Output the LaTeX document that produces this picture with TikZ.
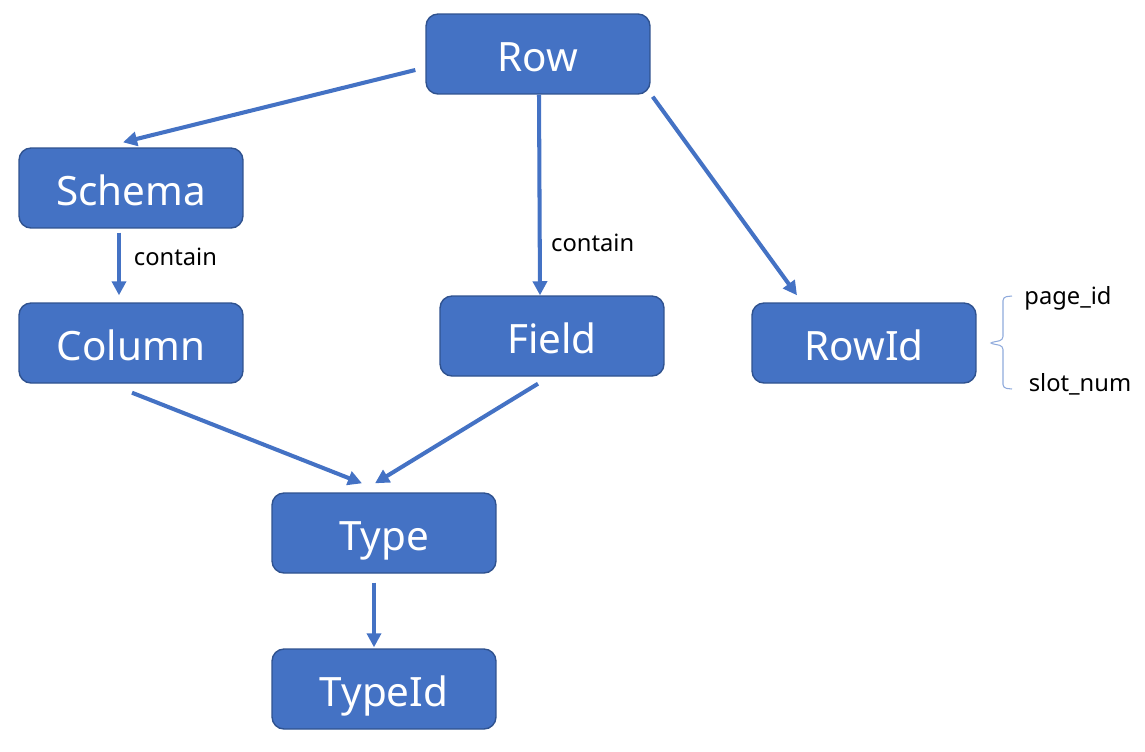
\documentclass[tikz,border=0pt]{standalone}
\usepackage{fontspec}
\setmainfont{Noto Sans}
\usetikzlibrary{arrows.meta,calc}
\definecolor{boxfill}{HTML}{4472C4}
\definecolor{boxline}{HTML}{2F528F}
\definecolor{bracecol}{HTML}{8FAADC}
\tikzset{
  box/.style={draw=boxline, line width=0.8pt, fill=boxfill, rounded corners=0.24cm,
    minimum width=4.48cm, minimum height=1.6cm, text=white, font=\fontsize{23}{28}\selectfont,
    text height=20pt, text depth=0pt},
  link/.style={draw=boxfill, line width=2.3pt, -{Triangle[length=8pt,width=8pt]}},
  lbl/.style={font=\fontsize{13.5}{16}\selectfont, text=black}
}
\begin{document}
\begin{tikzpicture}[x=0.02cm,y=-0.02cm]
    \useasboundingbox (0,0) rectangle (1145,751);
    \foreach \n/\x/\y/\t in {row/538/54/Row, schema/131/188/Schema, column/131/343/Column,
        field/552/336/Field, rowid/864/343/RowId, type/384/533/Type, typeid/384/689/TypeId}
    {
    \node[box] (\n) at (\x,\y) {\t};
    }
    \draw[link] ($(row.west)+(-10,16)$) -- ($(schema.north)+(-8,-5)$);
    \draw[link] ($(row.south)+(1,0)$) -- ($(field.north)+(-12,0)$) node[lbl, pos=0.74, right=2pt] (c2) {contain};
    \draw[link] ($(row.south east)+(2,2)$) -- ($(rowid.north)+(-67,-7)$);
    \draw[link] ($(schema.south)+(-12,4)$) -- ($(column.north)+(-12,-7)$) node[lbl, pos=0.38, right=4pt] (c1) {contain};
    \draw[link] ($(column.south)+(1,9)$) -- ($(type.north)+(-22,-9)$);
    \draw[link] ($(field.south)+(-14,7)$) -- ($(type.north)+(-9,-9)$);
    \draw[link] ($(type.south)+(-10,9)$) -- ($(typeid.north)+(-10,-1)$);
    % brace next to RowId
    \draw[bracecol, line width=0.6pt, rounded corners=2pt] (1012,296) -- (1003,297) -- (1003,340)
        -- (989,343) -- (1003,346) -- (1003,388) -- (1012,389);
    \node[lbl] (pid) at (1068,298) {page\_id};
    \node[lbl] (snum) at (1080,384) {slot\_num};
\end{tikzpicture}
\end{document}
